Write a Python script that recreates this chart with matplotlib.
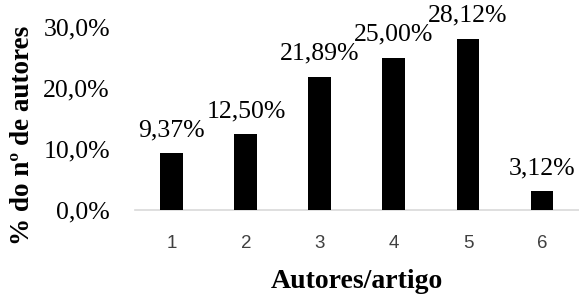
import matplotlib.pyplot as plt
from matplotlib.ticker import FuncFormatter

# data
autores = ['1', '2', '3', '4', '5', '6']
percent = [9.37, 12.50, 21.89, 25.00, 28.12, 3.12]
bar_labels = ['9,37%', '12,50%', '21,89%', '25,00%', '28,12%', '3,12%']
yticks = [0, 10, 20, 30]

serif = 'Liberation Serif'

fig = plt.figure(figsize=(5.79, 2.98), dpi=100)
ax = fig.add_axes([0.233, 0.295, 0.767, 0.614])

x = range(len(autores))
bars = ax.bar(x, percent, width=0.31, color='black', zorder=3)

for b, lab in zip(bars, bar_labels):
    ax.annotate(lab, (b.get_x() + b.get_width() / 2, b.get_height()),
                xytext=(0, 12), textcoords='offset points',
                ha='center', va='baseline', fontsize=18.5, family=serif,
                annotation_clip=False)

ax.set_xlim(-0.5, len(autores) - 0.5)
ax.set_ylim(0, 30)
ax.set_yticks(yticks)
ax.yaxis.set_major_formatter(FuncFormatter(lambda v, p: f'{v:.1f}%'.replace('.', ',')))
ax.set_xticks(list(x))
ax.set_xticklabels(autores)

for s in ['top', 'right', 'left']:
    ax.spines[s].set_visible(False)
ax.spines['bottom'].set_color('#d9d9d9')
ax.spines['bottom'].set_linewidth(1.2)

ax.tick_params(axis='y', length=0, pad=18, labelsize=18.5)
ax.tick_params(axis='x', length=0, pad=18, labelsize=13.5, labelcolor='#404040')
for t in ax.get_yticklabels():
    t.set_family(serif)
for t in ax.get_xticklabels():
    t.set_family('Liberation Sans')

ax.set_xlabel('Autores/artigo', fontsize=20, fontweight='bold', family=serif, labelpad=12)
ax.set_ylabel('% do nº de autores', fontsize=19.5, fontweight='bold', family=serif)
ax.yaxis.set_label_coords(-0.225, 0.41)

fig.savefig('out.png', dpi=100)
